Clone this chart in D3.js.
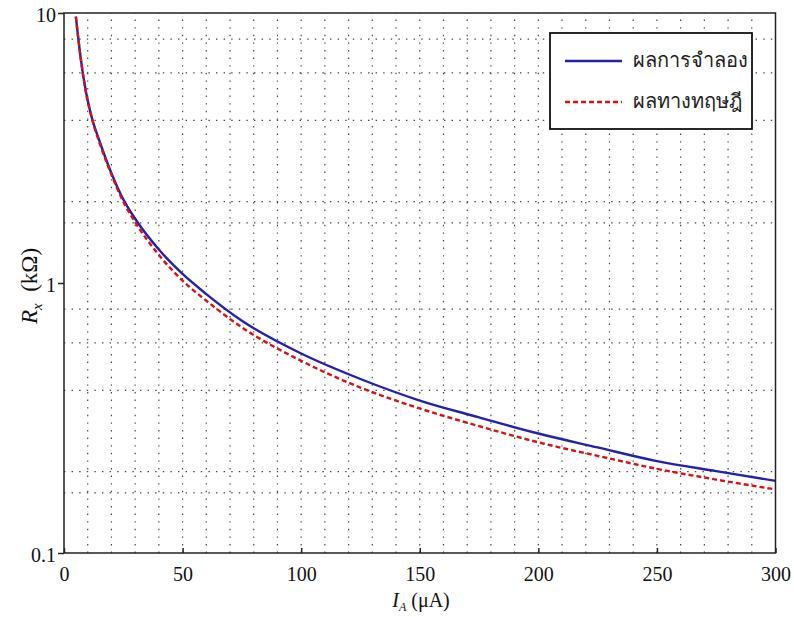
<!DOCTYPE html>
<html>
<head>
<meta charset="utf-8">
<script src="https://cdn.jsdelivr.net/npm/d3@7"></script>
<style>
  body { margin: 0; background: #fff; }
  svg { display: block; }
</style>
</head>
<body>
<svg id="chart" width="794" height="617"></svg>
<script>
// Datos
const currentUA = [5, 7, 9, 12, 15, 20, 25, 30, 40, 50, 60, 75, 100, 125, 150, 175, 200, 225, 250, 275, 300];
const simRx = [9.7, 6.85, 5.25, 4.02, 3.35, 2.55, 2.04, 1.73, 1.33, 1.08, 0.91, 0.725, 0.548, 0.441, 0.367, 0.318, 0.277, 0.246, 0.219, 0.201, 0.185];
const theoryRx = [9.7, 6.85, 5.22, 4.0, 3.3, 2.52, 2.0, 1.68, 1.27, 1.02, 0.86, 0.685, 0.515, 0.41, 0.343, 0.295, 0.257, 0.229, 0.205, 0.187, 0.172];
const xTicks = [0, 50, 100, 150, 200, 250, 300];
const yTicks = [0.1, 1, 10];
const yGridSteps = [8, 6, 4, 2, 1.67];
const legendLabels = ['ผลการจำลอง', 'ผลทางทฤษฎี'];

const SERIF = '"Liberation Serif", serif';
const svg = d3.select('#chart');
const m = { l: 64, r: 775.5, t: 13, b: 553 };

const x = d3.scaleLinear().domain([0, 300]).range([m.l, m.r]);
const y = d3.scaleLog().domain([0.1, 10]).range([m.b, m.t]);

// Rejilla punteada
const xGrid = d3.range(10, 300, 10);
const yGrid = [0.1, 1].flatMap(d => yGridSteps.map(s => s * d));
const grid = svg.append('g')
    .attr('stroke', '#444')
    .attr('stroke-width', 1.2)
    .attr('stroke-dasharray', '1.4,6.2');
grid.selectAll('.gx').data(xGrid).enter().append('line')
    .attr('x1', d => x(d)).attr('x2', d => x(d))
    .attr('y1', m.b).attr('y2', m.t);
grid.selectAll('.gy').data(yGrid).enter().append('line')
    .attr('y1', d => y(d)).attr('y2', d => y(d))
    .attr('x1', m.l).attr('x2', m.r);

// Curvas
const series = [
    { values: simRx, color: '#2222a8', dash: null },
    { values: theoryRx, color: '#d41414', dash: '5,3' }
];
const line = d3.line()
    .x((d, i) => x(currentUA[i]))
    .y(d => y(d))
    .curve(d3.curveMonotoneX);
series.forEach(s => {
    svg.append('path')
        .datum(s.values)
        .attr('d', line)
        .attr('fill', 'none')
        .attr('stroke', s.color)
        .attr('stroke-width', 2.4)
        .attr('stroke-dasharray', s.dash);
});

// Marco
svg.append('rect')
    .attr('x', m.l).attr('y', m.t)
    .attr('width', m.r - m.l).attr('height', m.b - m.t)
    .attr('fill', 'none')
    .attr('stroke', '#222')
    .attr('stroke-width', 1.5);

// Eje X (marcas hacia adentro)
const xAxis = svg.append('g')
    .attr('transform', `translate(0,${m.b})`)
    .call(d3.axisBottom(x).tickValues(xTicks).tickSizeInner(-5).tickSizeOuter(0).tickPadding(14));
xAxis.select('.domain').remove();
xAxis.selectAll('line').attr('stroke', '#222').attr('stroke-width', 1.5);
xAxis.selectAll('text')
    .style('font-family', SERIF)
    .style('font-size', '20px')
    .attr('fill', '#111');

// Eje Y (log)
const yAxis = svg.append('g')
    .attr('transform', `translate(${m.l},0)`)
    .call(d3.axisLeft(y).tickValues(yTicks).tickFormat(d3.format('')).tickSizeInner(6).tickSizeOuter(0).tickPadding(2));
yAxis.select('.domain').remove();
yAxis.selectAll('line').attr('stroke', '#222').attr('stroke-width', 1.5);
yAxis.selectAll('text')
    .style('font-family', SERIF)
    .style('font-size', '20px')
    .attr('dy', '0.4em')
    .attr('fill', '#111');

// Títulos de ejes
const yTitle = svg.append('text')
    .attr('transform', 'translate(37,286) rotate(-90)')
    .attr('text-anchor', 'middle')
    .style('font-family', SERIF)
    .style('font-size', '23px')
    .attr('fill', '#111');
yTitle.append('tspan').style('font-style', 'italic').text('R');
yTitle.append('tspan').style('font-style', 'italic').style('font-size', '15px').attr('dy', 5).text('x');
yTitle.append('tspan').attr('dy', -5).text('\u2002(kΩ)');

const xTitle = svg.append('text')
    .attr('x', 421).attr('y', 607)
    .attr('text-anchor', 'middle')
    .style('font-family', SERIF)
    .style('font-size', '20px')
    .attr('fill', '#111');
xTitle.append('tspan').style('font-style', 'italic').text('I');
xTitle.append('tspan').style('font-style', 'italic').style('font-size', '12px').attr('dy', 4).text('A');
xTitle.append('tspan').attr('dy', -4).text(' (μA)');

// Leyenda
const legend = svg.append('g');
legend.append('rect')
    .attr('x', 550).attr('y', 33)
    .attr('width', 202).attr('height', 96)
    .attr('fill', '#fff')
    .attr('stroke', '#111')
    .attr('stroke-width', 1.8);
series.forEach((s, i) => {
    const ly = 61 + i * 41;
    legend.append('line')
        .attr('x1', 565).attr('x2', 622)
        .attr('y1', ly).attr('y2', ly)
        .attr('stroke', s.color)
        .attr('stroke-width', 2.4)
        .attr('stroke-dasharray', s.dash);
    legend.append('text')
        .attr('x', 633).attr('y', ly)
        .attr('dy', '0.3em')
        .style('font-family', "'Noto Sans', 'DejaVu Sans', sans-serif")
        .style('font-size', '20px')
        .attr('fill', '#222')
        .text(legendLabels[i]);
});
</script>
</body>
</html>
